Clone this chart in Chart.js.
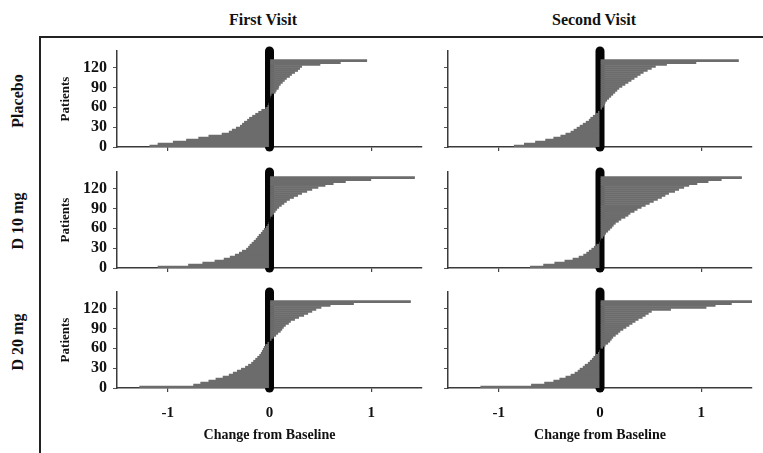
<!DOCTYPE html>
<html>
<head>
<meta charset="utf-8">
<script src="https://cdn.jsdelivr.net/npm/chart.js@4.4.1/dist/chart.umd.min.js"></script>
<style>
  body { margin: 0; background: #fff; width: 763px; height: 453px; position: relative; overflow: hidden;
         font-family: 'Liberation Serif', 'DejaVu Serif', serif; font-weight: bold; color: #111; }
  canvas { position: absolute; }
  .lbl { position: absolute; white-space: nowrap; font-size: 16px; transform: translate(-50%, -50%); }
  .rot { transform: translate(-50%, -50%) rotate(-90deg); }
  .box { position: absolute; left: 39px; top: 36px; width: 740px; height: 430px;
         border-top: 2px solid #222; border-left: 2px solid #222; }
</style>
</head>
<body>
<div class="box"></div>
<div class="lbl" style="left:263px; top:20px;">First Visit</div>
<div class="lbl" style="left:594px; top:20px;">Second Visit</div>
<div class="lbl rot" style="left:18px; top:101px;">Placebo</div>
<div class="lbl rot" style="left:18px; top:221px;">D 10 mg</div>
<div class="lbl rot" style="left:18px; top:342px;">D 20 mg</div>

<canvas id="p11" width="380" height="114" style="left:50px; top:43px;"></canvas>
<canvas id="p12" width="323" height="114" style="left:440px; top:43px;"></canvas>
<canvas id="p21" width="380" height="114" style="left:50px; top:164px;"></canvas>
<canvas id="p22" width="323" height="114" style="left:440px; top:164px;"></canvas>
<canvas id="p31" width="380" height="164" style="left:50px; top:284px;"></canvas>
<canvas id="p32" width="323" height="164" style="left:440px; top:284px;"></canvas>

<script>
// patient bins (3 patients each, centre of the bin)
const patientBins = [1.5, 4.5, 7.5, 10.5, 13.5, 16.5, 19.5, 22.5, 25.5, 28.5, 31.5, 34.5, 37.5, 40.5,
  43.5, 46.5, 49.5, 52.5, 55.5, 58.5, 61.5, 64.5, 67.5, 70.5, 73.5, 76.5, 79.5, 82.5, 85.5, 88.5,
  91.5, 94.5, 97.5, 100.5, 103.5, 106.5, 109.5, 112.5, 115.5, 118.5, 121.5, 124.5, 127.5, 130.5,
  133.5, 136.5];

const xTicks = [-1, 0, 1];
const yTicks = [0, 30, 60, 90, 120];
const xMin = -1.5;
const xMax = 1.5;
const yMax = 145;

// change from baseline, sorted, per panel
const placeboFirst = [-1.18, -1.10, -0.95, -0.82, -0.70, -0.60, -0.47, -0.40, -0.37, -0.33,
  -0.29, -0.27, -0.25, -0.22, -0.20, -0.17, -0.14, -0.11, -0.08, -0.04,
  -0.02, -0.01, 0, 0, 0, 0.01, 0.02, 0.06, 0.07, 0.09,
  0.095, 0.11, 0.13, 0.15, 0.17, 0.20, 0.22, 0.25, 0.28, 0.30,
  0.32, 0.50, 0.70, 0.96];
const placeboSecond = [-0.85, -0.75, -0.64, -0.54, -0.46, -0.39, -0.34, -0.29, -0.26, -0.23,
  -0.20, -0.17, -0.14, -0.11, -0.095, -0.07, -0.045, -0.02, 0, 0.02,
  0.035, 0.045, 0.055, 0.07, 0.09, 0.11, 0.13, 0.15, 0.17, 0.19,
  0.22, 0.25, 0.28, 0.31, 0.34, 0.37, 0.40, 0.43, 0.47, 0.51,
  0.55, 0.66, 0.95, 1.37];
const d10First = [-1.10, -0.80, -0.66, -0.54, -0.45, -0.39, -0.34, -0.30, -0.27, -0.23,
  -0.21, -0.195, -0.175, -0.155, -0.135, -0.12, -0.105, -0.085, -0.07, -0.055,
  -0.035, -0.02, -0.01, 0, 0, 0.01, 0.03, 0.045, 0.06, 0.075,
  0.095, 0.12, 0.145, 0.17, 0.20, 0.24, 0.28, 0.32, 0.37, 0.42,
  0.48, 0.55, 0.63, 0.75, 1.00, 1.43];
const d10Second = [-0.69, -0.56, -0.45, -0.35, -0.27, -0.21, -0.165, -0.135, -0.11, -0.085,
  -0.06, -0.035, -0.01, 0, 0.01, 0.03, 0.045, 0.06, 0.08, 0.10,
  0.12, 0.135, 0.155, 0.185, 0.21, 0.25, 0.28, 0.30, 0.34, 0.37,
  0.41, 0.45, 0.49, 0.53, 0.57, 0.61, 0.645, 0.68, 0.74, 0.78,
  0.83, 0.88, 0.96, 1.07, 1.20, 1.40];
const d20First = [-1.28, -0.75, -0.68, -0.60, -0.53, -0.46, -0.40, -0.36, -0.32, -0.28,
  -0.24, -0.21, -0.18, -0.16, -0.14, -0.12, -0.10, -0.085, -0.075, -0.065,
  -0.055, -0.04, -0.02, 0, 0.02, 0.04, 0.065, 0.085, 0.11, 0.125,
  0.14, 0.16, 0.19, 0.21, 0.25, 0.29, 0.34, 0.38, 0.42, 0.46,
  0.51, 0.60, 0.83, 1.39];
const d20Second = [-1.18, -0.68, -0.55, -0.46, -0.40, -0.34, -0.29, -0.25, -0.22, -0.20,
  -0.17, -0.15, -0.12, -0.10, -0.08, -0.065, -0.045, -0.02, -0.01, 0,
  0.03, 0.055, 0.08, 0.10, 0.115, 0.13, 0.155, 0.18, 0.20, 0.23,
  0.26, 0.29, 0.32, 0.35, 0.38, 0.42, 0.45, 0.48, 0.51, 0.70,
  1.05, 1.14, 1.30, 1.50];

Chart.defaults.font.family = "'Liberation Serif', 'DejaVu Serif', serif";
Chart.defaults.font.weight = 'bold';
Chart.defaults.color = '#111';

function noPad(s) {
  s.paddingTop = 0;
  s.paddingBottom = 0;
  s.paddingLeft = 0;
  s.paddingRight = 0;
}

function panel(id, values, leftCol, bottomRow) {
  new Chart(document.getElementById(id), {
    type: 'bar',
    data: {
      labels: patientBins,
      datasets: [
        {
          type: 'bar',
          data: values,
          backgroundColor: '#6c6c6c',
          borderWidth: 0,
          barThickness: 2.6,
          inflateAmount: 0,
        },
        {
          type: 'line',
          data: [{ x: 0, y: 0 }, { x: 0, y: yMax }],
          borderColor: '#050505',
          borderWidth: 9,
          borderCapStyle: 'round',
          pointRadius: 0,
          clip: false,
        },
      ],
    },
    options: {
      indexAxis: 'y',
      responsive: false,
      animation: false,
      events: [],
      layout: { padding: { top: 8, right: leftCol ? 8 : 11, left: 0, bottom: 0 } },
      plugins: { legend: { display: false }, tooltip: { enabled: false } },
      scales: {
        x: {
          type: 'linear',
          min: xMin,
          max: xMax,
          afterBuildTicks: (s) => { s.ticks = xTicks.map((v) => ({ value: v })); },
          afterFit: (s) => { s.height = bottomRow ? 60 : 10; noPad(s); },
          grid: { drawOnChartArea: false, tickLength: 4, color: '#444', lineWidth: 1.2 },
          border: { color: '#3a3a3a', width: 1.5 },
          ticks: { display: bottomRow, padding: 12, font: { size: 15, weight: 'bold' } },
          title: {
            display: bottomRow,
            text: 'Change from Baseline',
            font: { size: 14, weight: 'bold' },
            padding: { top: 4, bottom: 4 },
          },
        },
        y: {
          type: 'linear',
          min: 0,
          max: yMax,
          offset: false,
          afterBuildTicks: (s) => { s.ticks = yTicks.map((v) => ({ value: v })); },
          afterFit: (s) => { s.width = leftCol ? 67 : 8; noPad(s); },
          grid: { offset: false, drawOnChartArea: false, tickLength: 4, color: '#555', lineWidth: 1 },
          border: { color: '#3a3a3a', width: 1.5 },
          ticks: { display: leftCol, padding: 6, font: { size: 16, weight: 'bold' } },
          title: {
            display: leftCol,
            text: 'Patients',
            font: { size: 13, weight: 'bold' },
            padding: { top: 8, bottom: 4 },
          },
        },
      },
    },
  });
}

panel('p11', placeboFirst, true, false);
panel('p12', placeboSecond, false, false);
panel('p21', d10First, true, false);
panel('p22', d10Second, false, false);
panel('p31', d20First, true, true);
panel('p32', d20Second, false, true);
</script>
</body>
</html>
